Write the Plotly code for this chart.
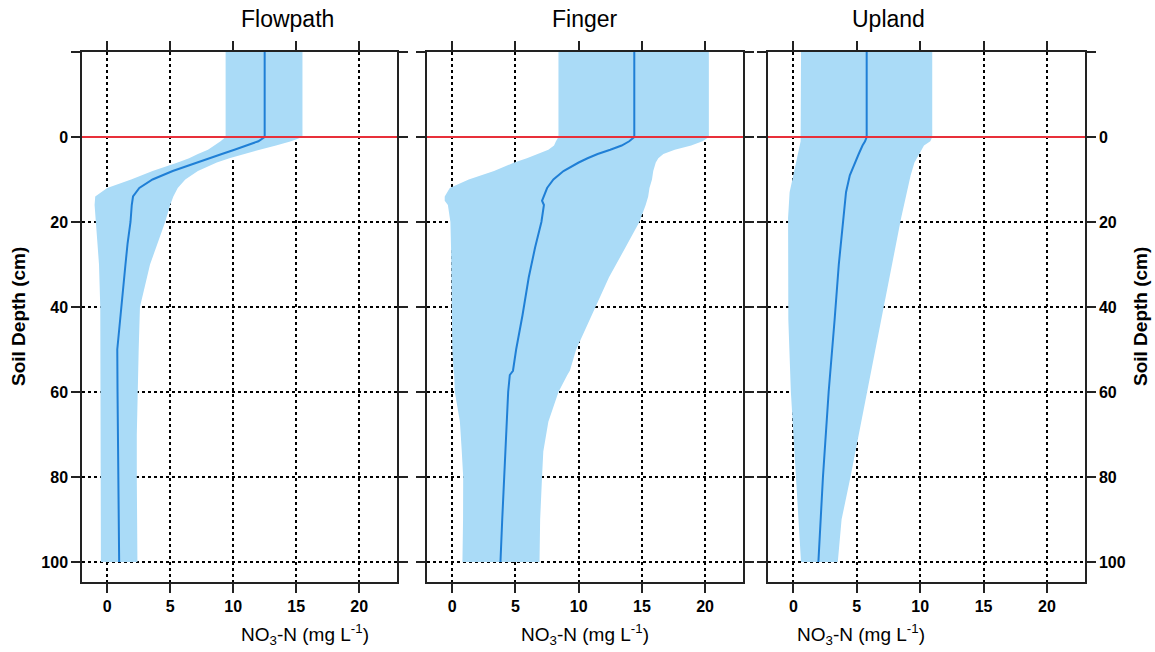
import plotly.graph_objects as go
from plotly.subplots import make_subplots

# ---------------- data ----------------
PANELS = ["Flowpath", "Finger", "Upland"]
SURFACE_DEPTH = 0

flow_depth = [-20, 0, 1, 2, 3, 4, 5, 6, 8, 10, 12, 14, 16, 20, 25, 30, 40, 50, 60, 70, 80, 90, 100]
flow_median = [12.5, 12.5, 12.0, 11.1, 10.1, 9.1, 8.1, 7.2, 5.2, 3.6, 2.55, 2.05, 1.95, 1.85, 1.62, 1.45, 1.1, 0.8, 0.82, 0.86, 0.9, 0.93, 0.95]
flow_upper = [15.5, 15.5, 14.6, 13.4, 12.1, 10.8, 9.7, 8.7, 7.2, 6.2, 5.6, 5.25, 5.0, 4.6, 4.0, 3.4, 2.6, 2.5, 2.4, 2.35, 2.35, 2.35, 2.4]
flow_lower = [9.4, 9.4, 9.0, 8.5, 8.0, 7.2, 6.5, 5.6, 3.6, 1.9, 0.0, -0.95, -1.0, -0.9, -0.75, -0.65, -0.55, -0.55, -0.55, -0.55, -0.52, -0.5, -0.5]

finger_depth = [-20, 0, 1, 2, 3, 4, 5, 6, 8, 10, 12, 14, 15, 16, 20, 26, 33, 42, 50, 55, 56, 60, 67, 74, 80, 90, 100]
finger_median = [14.4, 14.4, 14.0, 13.4, 12.5, 11.5, 10.7, 10.0, 8.8, 8.0, 7.5, 7.2, 7.1, 7.25, 7.05, 6.55, 6.05, 5.55, 5.05, 4.8, 4.55, 4.42, 4.3, 4.18, 4.1, 3.95, 3.81]
finger_upper = [20.3, 20.3, 19.8, 18.9, 17.6, 16.7, 16.3, 16.1, 15.9, 15.8, 15.6, 15.5, 15.4, 15.3, 14.8, 13.7, 12.4, 11.0, 9.8, 9.3, 9.1, 8.4, 7.6, 7.2, 7.1, 6.95, 6.9]
finger_lower = [8.4, 8.4, 8.2, 8.05, 7.6, 6.8, 5.9, 4.9, 3.3, 1.3, -0.2, -0.6, -0.6, -0.35, -0.15, -0.1, -0.08, -0.02, 0.0, 0.1, 0.15, 0.2, 0.6, 0.75, 0.86, 0.85, 0.8]

upland_depth = [-20, 0, 1, 2, 4, 6, 9, 13, 19, 30, 43, 60, 80, 90, 100]
upland_median = [5.78, 5.78, 5.65, 5.45, 5.15, 4.85, 4.45, 4.15, 3.96, 3.58, 3.25, 2.78, 2.33, 2.15, 1.97]
upland_upper = [10.95, 10.95, 10.8, 10.3, 9.9, 9.55, 9.25, 8.95, 8.5, 7.8, 6.9, 5.8, 4.5, 3.8, 3.5]
upland_lower = [0.6, 0.6, 0.57, 0.5, 0.35, 0.2, -0.05, -0.3, -0.42, -0.42, -0.4, -0.2, 0.2, 0.45, 0.6]

x_ticks = [0, 5, 10, 15, 20]
y_ticks = [-20, 0, 20, 40, 60, 80, 100]
y_ticktext = ["", "0", "20", "40", "60", "80", "100"]
x_range = [-2, 23]
y_range = [104.7, -20]

series = [
    (flow_depth, flow_median, flow_lower, flow_upper),
    (finger_depth, finger_median, finger_lower, finger_upper),
    (upland_depth, upland_median, upland_lower, upland_upper),
]

# ---------------- style ----------------
BAND = "#aadbf7"
MEDIAN = "#1f7fd6"
RED = "#e8303a"
FONT = "Liberation Sans, Arial, sans-serif"

fig = make_subplots(rows=1, cols=3, horizontal_spacing=0.03)

# domains from pixel geometry (plot area 82..1085)
domains = [[0.0, 0.314], [0.344, 0.659], [0.684, 1.0]]

for i, (d, m, lo, up) in enumerate(series):
    col = i + 1
    fig.add_trace(go.Scatter(
        x=list(lo) + list(up)[::-1],
        y=list(d) + list(d)[::-1],
        fill="toself", fillcolor=BAND, line=dict(width=0),
        mode="lines", hoverinfo="skip", showlegend=False,
    ), row=1, col=col)
    fig.add_hline(y=SURFACE_DEPTH, line=dict(color=RED, width=2), row=1, col=col)
    fig.add_trace(go.Scatter(
        x=m, y=d, mode="lines", line=dict(color=MEDIAN, width=2),
        showlegend=False,
    ), row=1, col=col)

    xa = "xaxis" if col == 1 else f"xaxis{col}"
    ya = "yaxis" if col == 1 else f"yaxis{col}"
    fig.layout[xa].update(
        domain=domains[i], range=x_range, tickvals=x_ticks, automargin=False,
        showgrid=True, gridcolor="black", gridwidth=2, griddash="dot",
        showline=True, linecolor="#222", linewidth=1.5, mirror="ticks",
        ticks="outside", ticklen=9, tickwidth=1.5, tickcolor="#222",
        zeroline=False,
        tickfont=dict(family=FONT, size=16, color="black", weight="bold"),
    )
    fig.layout[ya].update(
        range=y_range, tickvals=y_ticks, ticktext=y_ticktext, automargin=False,
        showgrid=True, gridcolor="black", gridwidth=2, griddash="dot",
        showline=True, linecolor="#222", linewidth=1.5, mirror="ticks",
        ticks="outside", ticklen=9, tickwidth=1.5, tickcolor="#222",
        zeroline=False,
        showticklabels=(col != 2),
        side="right" if col == 3 else "left",
        tickfont=dict(family=FONT, size=16, color="black", weight="bold"),
    )
    cx = (domains[i][0] + domains[i][1]) / 2
    fig.add_annotation(
        text=PANELS[i], x=cx, y=1, xref="paper", yref="paper",
        yshift=33, showarrow=False, yanchor="middle",
        font=dict(family=FONT, size=23, color="black"),
    )
    fig.add_annotation(
        text="NO<sub>3</sub>-N (mg L<sup>-1</sup>)", x=cx, y=0,
        xref="paper", yref="paper", yshift=-52, showarrow=False,
        yanchor="middle", font=dict(family=FONT, size=19, color="black"),
    )

fig.add_annotation(
    text="Soil Depth (cm)", x=0, y=0.5, xref="paper", yref="paper",
    xshift=-64, textangle=-90, showarrow=False, xanchor="center",
    font=dict(family=FONT, size=19, color="black", weight="bold"),
)
fig.add_annotation(
    text="Soil Depth (cm)", x=1, y=0.5, xref="paper", yref="paper",
    xshift=55, textangle=-90, showarrow=False, xanchor="center",
    font=dict(family=FONT, size=19, color="black", weight="bold"),
)

fig.update_layout(
    width=1155, height=652,
    margin=dict(l=82, r=70, t=52, b=70),
    plot_bgcolor="white", paper_bgcolor="white",
    font=dict(family=FONT, color="black"),
)

# remove the browser's default 8px body margin so the figure fills the window exactly
fig.write_html("out.html", post_script="document.body.style.margin='0';",
               config={"displayModeBar": False})
